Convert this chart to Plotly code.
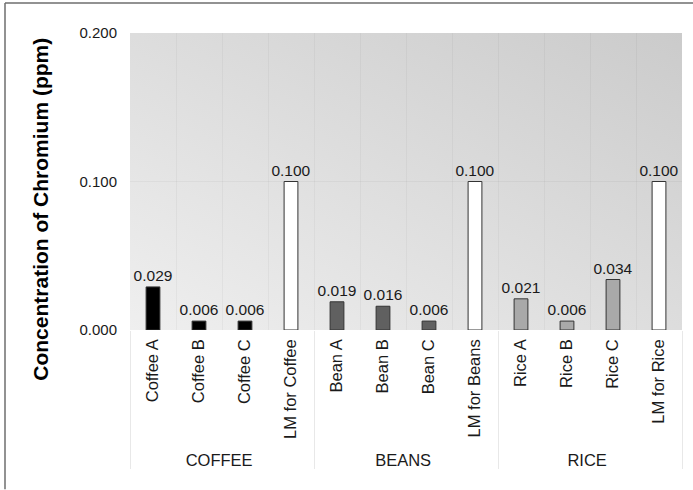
import urllib.parse
import plotly.graph_objects as go

groups = ["COFFEE"] * 4 + ["BEANS"] * 4 + ["RICE"] * 4
categories = ["Coffee A", "Coffee B", "Coffee C", "LM for Coffee",
              "Bean A", "Bean B", "Bean C", "LM for Beans",
              "Rice A", "Rice B", "Rice C", "LM for Rice"]
values = [0.029, 0.006, 0.006, 0.100,
          0.019, 0.016, 0.006, 0.100,
          0.021, 0.006, 0.034, 0.100]
bar_colors = ["#000000", "#000000", "#000000", "#ffffff",
              "#606060", "#606060", "#606060", "#ffffff",
              "#a9a9a9", "#a9a9a9", "#a9a9a9", "#ffffff"]
y_title = "Concentration of Chromium (ppm)"

font_family = "Liberation Sans, Arial, sans-serif"

svg = ("<svg xmlns='http://www.w3.org/2000/svg' width='100' height='100' preserveAspectRatio='none'>"
       "<defs><linearGradient id='g' x1='0' y1='1' x2='1' y2='0'>"
       "<stop offset='0' stop-color='#efefef'/><stop offset='1' stop-color='#cbcbcb'/>"
       "</linearGradient></defs><rect width='100' height='100' fill='url(#g)'/></svg>")
svg_uri = "data:image/svg+xml;charset=utf-8," + urllib.parse.quote(svg)

W, H = 693, 490
L, R, T, B = 130, 11, 33, 159.5
pw, ph = W - L - R, H - T - B

fig = go.Figure()
fig.add_trace(go.Bar(
    x=[groups, categories],
    y=values,
    marker=dict(color=bar_colors, line=dict(color="#333333", width=1)),
    text=[f"{v:.3f}" for v in values],
    textposition="outside",
    constraintext="none",
    textfont=dict(size=15.5, color="#1a1a1a", family=font_family),
    cliponaxis=False,
    showlegend=False,
    hoverinfo="skip",
))

fig.update_layout(
    width=W, height=H,
    margin=dict(l=L, r=R, t=T, b=B, autoexpand=False),
    paper_bgcolor="white",
    plot_bgcolor="rgba(0,0,0,0)",
    bargap=0.7,
    font=dict(family=font_family, size=15, color="#1a1a1a"),
    images=[dict(source=svg_uri, xref="paper", yref="paper", x=0, y=1,
                 sizex=1, sizey=1, sizing="stretch", layer="below",
                 xanchor="left", yanchor="top")],
    shapes=[
        dict(type="line", xref="paper", yref="paper", x0=-(L - 5) / pw, x1=1 + R / pw,
             y0=1 + (T - 3) / ph, y1=1 + (T - 3) / ph, line=dict(color="#6e6e6e", width=1.5)),
        dict(type="line", xref="paper", yref="paper", x0=-(L - 5) / pw, x1=-(L - 5) / pw,
             y0=-B / ph, y1=1 + (T - 3) / ph, line=dict(color="#6e6e6e", width=1.5)),
    ],
    annotations=[dict(
        text=f"<b>{y_title}</b>", textangle=-90, showarrow=False,
        xref="paper", yref="paper",
        x=-(L - 41) / pw, y=(H - B - 210) / ph,
        xanchor="center", yanchor="middle",
        font=dict(size=21, family=font_family, color="#000000"),
    )],
)

fig.update_xaxes(
    type="multicategory",
    tickangle=-90,
    tickfont=dict(size=16.5, family=font_family, color="#1a1a1a"),
    showgrid=True, gridcolor="rgba(0,0,0,0.035)", gridwidth=1,
    tickson="boundaries",
    ticks="",
    ticklabelstandoff=5,
    showdividers=True, dividercolor="#e8e8e8", dividerwidth=1,
    showline=False, zeroline=False,
)
fig.update_yaxes(
    range=[0, 0.2],
    tickvals=[0, 0.1, 0.2],
    tickformat=".3f",
    tickfont=dict(size=15, family=font_family, color="#1a1a1a"),
    showgrid=True, gridcolor="rgba(0,0,0,0.04)", gridwidth=1,
    zeroline=False, showline=False, ticks="",
    ticklabelstandoff=12,
)

fig.write_html("out.html", config={"displayModeBar": False},
               post_script="document.body.style.margin='0';")
